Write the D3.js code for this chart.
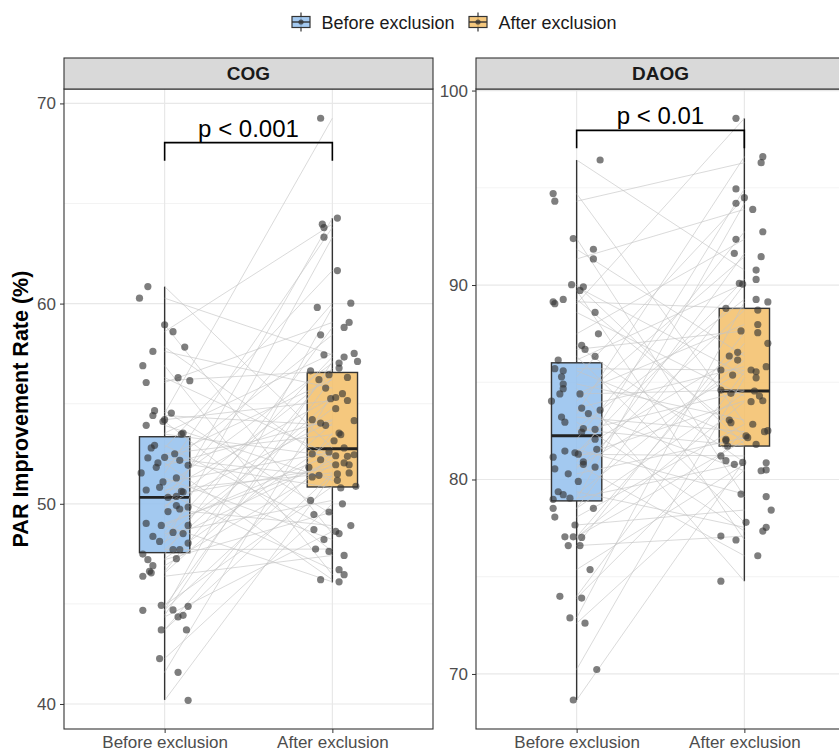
<!DOCTYPE html>
<html>
<head>
<meta charset="utf-8">
<script src="https://cdn.jsdelivr.net/npm/d3@7"></script>
<style>
  body { margin: 0; background: #fff; }
  text { font-family: "Liberation Sans", Arial, sans-serif; }
</style>
</head>
<body>
<svg id="chart" width="839" height="751"></svg>
<script>
var groups = ["Before exclusion", "After exclusion"];
var panels = ["COG", "DAOG"];
var pLabels = ["p < 0.001", "p < 0.01"];

// axis limits and ticks
var cogDomain = [38.75, 70.72];
var daogDomain = [67.17, 100.08];
var cogTicks = [40, 50, 60, 70];
var cogMinor = [45, 55, 65];
var daogTicks = [70, 80, 90, 100];
var daogMinor = [75, 85, 95];

// boxplot stats: [lower whisker, q1, median, q3, upper whisker]
var cogBox = [[40.2, 47.56, 50.32, 53.35, 60.85], [46.07, 50.84, 52.75, 56.56, 64.27]];
var daogBox = [[68.66, 78.9, 82.25, 86.0, 96.43], [74.77, 81.72, 84.55, 88.8, 98.57]];

// significance bracket: [leg end, bar]
var cogBracket = [67.13, 68.04];
var daogBracket = [97.03, 97.95];

// points: [value, jitter in % of category step]
var cogBefore = [[60.85,-10],[60.27,-15],[58.94,0],[58.6,5],[57.83,12],[57.61,-7],[56.9,-13],[56.06,-11],[56.3,8],[56.15,15],
  [54.65,-6],[54.41,-7],[54.53,4],[53.92,-11],[54.2,0],[54.11,-1],[53.53,11],[53.48,10],[52.79,-8],[52.92,-6],
  [52.29,-10],[52.32,0],[52.5,6],[52.04,-4],[51.82,-5],[52.17,9],[51.92,14],[51.54,-14],[51.29,7],[51.09,-1],
  [50.82,-3],[50.69,-11],[50.62,10],[50.59,11],[50.32,2],[50.37,7],[49.91,7],[49.74,9],[49.84,14],[49.61,2],
  [49.02,-11],[48.92,-2],[48.92,14],[48.57,5],[48.51,11],[48.37,-7],[48.12,-3],[48.04,14],[47.71,5],[47.71,9],
  [47.26,7],[47.49,-13],[47.21,-10],[46.91,-7],[46.63,-9],[46.38,-13],[46.55,-8],[44.68,-13],[44.93,-2],[44.7,5],
  [44.88,14],[44.35,8],[44.43,11],[43.7,-2],[43.7,13],[42.27,-3],[41.58,8],[40.18,14]];
var cogAfter = [[69.26,-7],[64.27,3],[63.97,-6],[63.8,-5],[63.32,-5],[61.65,3],[59.81,-9],[60.02,11],[59.06,10],[58.81,7],
  [58.44,-7],[57.44,-5],[57.33,7],[57.51,13],[57.11,15],[57.03,4],[56.78,4],[56.64,-13],[56.45,-2],[56.2,-8],
  [56.31,9],[55.78,-4],[55.25,-1],[55.31,2],[55.5,6],[55.16,9],[54.75,2],[54.2,-12],[54.03,-7],[53.92,-4],
  [54.15,13],[53.53,4],[53.45,5],[53.15,1],[52.79,7],[52.49,-12],[52.59,-2],[52.37,9],[52.45,13],[52.2,-7],
  [52.4,2],[51.82,-14],[51.42,-8],[51.34,-12],[51.95,2],[52.04,7],[51.95,10],[51.49,3],[51.54,10],[51.17,3],
  [50.87,14],[50.79,5],[50.17,-13],[50.0,6],[49.46,-11],[49.59,-2],[48.91,11],[48.71,-11],[48.62,2],[48.51,4],
  [48.21,-5],[47.74,-10],[47.62,-2],[47.42,7],[46.71,4],[46.46,7],[46.21,-7],[46.1,4]];
// which after point (1-based) belongs to each before point
var cogPair = [35,12,60,3,47,22,66,9,41,18,55,30,1,50,26,63,14,38,6,58,44,20,33,67,11,52,28,4,61,37,
  16,49,24,65,8,42,31,57,19,2,46,36,68,13,53,27,40,5,62,23,34,10,56,45,17,64,29,7,51,39,21,59,15,48,32,54,25,43];

var daogBefore = [[96.43,14],[94.7,-14],[94.31,-13],[92.39,-2],[91.84,10],[91.34,10],[90.02,-3],[89.91,4],[89.72,2],[89.14,-14],
  [89.04,-13],[89.26,-8],[88.59,11],[87.49,13],[86.9,3],[86.69,5],[86.33,11],[86.14,-11],[85.7,-13],[85.59,-8],
  [85.28,-9],[84.91,-8],[84.67,-8],[84.4,-10],[84.4,2],[84.03,-15],[83.57,14],[83.67,3],[83.39,7],[83.21,-9],
  [82.95,-7],[82.62,4],[82.44,3],[82.58,11],[82.07,11],[81.55,12],[81.46,-7],[81.37,-1],[81.3,1],[81.15,-14],
  [80.91,4],[80.78,4],[80.64,11],[80.55,-13],[80.29,-5],[79.9,1],[79.37,-11],[79.22,-8],[79.04,-4],[78.98,-14],
  [78.52,-14],[78.07,-13],[78.52,10],[77.66,-1],[77.05,-7],[77.05,-2],[77.02,3],[76.6,-5],[76.6,2],[75.37,8],
  [73.99,-10],[73.9,3],[72.88,-4],[72.61,5],[70.23,12],[68.66,-2]];
var daogAfter = [[98.57,-5],[96.6,11],[96.29,10],[94.94,-5],[94.49,0],[94.2,-5],[93.89,5],[92.74,11],[92.35,-5],[91.63,-6],
  [91.46,10],[90.77,7],[90.29,7],[90.09,-3],[90.05,-1],[89.26,7],[89.13,14],[88.8,-11],[88.71,8],[87.97,8],
  [87.55,8],[87.64,-2],[87.0,14],[86.54,-4],[86.35,-9],[86.14,-4],[85.8,13],[85.63,4],[85.54,7],[85.63,-14],
  [85.37,-7],[85.23,7],[84.6,-14],[84.43,-8],[84.55,6],[84.29,9],[84.0,4],[84.05,11],[83.06,-9],[82.92,-8],
  [82.84,5],[82.46,12],[82.51,14],[82.24,1],[82.15,2],[82.07,-11],[82.0,-11],[81.72,-10],[81.81,7],[81.21,-14],
  [80.97,-11],[80.78,-6],[80.88,-1],[80.86,13],[80.45,10],[80.49,13],[79.25,-2],[79.12,13],[78.43,16],[77.8,1],
  [77.54,13],[77.35,11],[77.09,-14],[76.89,-5],[76.08,8],[74.77,-14]];
var daogPair = [12,40,3,58,25,7,49,31,64,18,1,44,36,9,53,22,60,14,28,46,5,39,66,20,33,11,55,27,2,42,
  62,16,35,48,8,57,24,13,50,38,4,65,30,19,45,10,61,26,54,6,34,41,15,59,23,47,37,63,21,52,29,43,17,56,32,51];

var boxFill = ["#93bfed", "#f3be67"];

var svg = d3.select("#chart");
var panelTop = 89, panelBottom = 729, stripTop = 58;

drawPanel(svg, 64, 433, panels[0], pLabels[0], cogDomain, cogTicks, cogMinor, cogBox, cogBracket, cogBefore, cogAfter, cogPair);
drawPanel(svg, 476, 845, panels[1], pLabels[1], daogDomain, daogTicks, daogMinor, daogBox, daogBracket, daogBefore, daogAfter, daogPair);
drawLegend(svg);

// y axis title
svg.append("text")
  .attr("transform", "translate(28," + (panelTop + panelBottom) / 2 + ") rotate(-90)")
  .attr("text-anchor", "middle")
  .style("font-size", "21.5px")
  .style("font-weight", "bold")
  .text("PAR Improvement Rate (%)");

function drawPanel(svg, x0, x1, name, pLabel, domain, ticks, minor, box, bracket, before, after, pair) {
  var x = d3.scalePoint().domain(groups).range([x0, x1]).padding(0.6);
  var y = d3.scaleLinear().domain(domain).range([panelBottom, panelTop]);
  var step = x.step();
  var bw = step * 0.3;

  var g = svg.append("g");
  g.append("rect")
    .attr("x", x0).attr("y", panelTop)
    .attr("width", x1 - x0).attr("height", panelBottom - panelTop)
    .attr("fill", "white");

  // grid
  g.selectAll(".minor").data(minor).enter().append("line")
    .attr("x1", x0).attr("x2", x1)
    .attr("y1", d => y(d)).attr("y2", d => y(d))
    .attr("stroke", "#eeeeee").attr("stroke-width", 0.7);
  g.selectAll(".major").data(ticks).enter().append("line")
    .attr("x1", x0).attr("x2", x1)
    .attr("y1", d => y(d)).attr("y2", d => y(d))
    .attr("stroke", "#e8e8e8").attr("stroke-width", 1.2);
  g.selectAll(".vgrid").data(groups).enter().append("line")
    .attr("x1", d => x(d)).attr("x2", d => x(d))
    .attr("y1", panelTop).attr("y2", panelBottom)
    .attr("stroke", "#e8e8e8").attr("stroke-width", 1.2);

  // boxes + whiskers
  for (let i = 0; i < groups.length; i++) {
    var cx = x(groups[i]);
    var s = box[i];
    g.append("line")
      .attr("x1", cx).attr("x2", cx)
      .attr("y1", y(s[0])).attr("y2", y(s[1]))
      .attr("stroke", "#333").attr("stroke-width", 1.4);
    g.append("line")
      .attr("x1", cx).attr("x2", cx)
      .attr("y1", y(s[3])).attr("y2", y(s[4]))
      .attr("stroke", "#333").attr("stroke-width", 1.4);
    g.append("rect")
      .attr("x", cx - bw / 2).attr("y", y(s[3]))
      .attr("width", bw).attr("height", y(s[1]) - y(s[3]))
      .attr("fill", boxFill[i]).attr("fill-opacity", 0.85)
      .attr("stroke", "#333").attr("stroke-width", 1.4);
    g.append("line")
      .attr("x1", cx - bw / 2).attr("x2", cx + bw / 2)
      .attr("y1", y(s[2])).attr("y2", y(s[2]))
      .attr("stroke", "#222").attr("stroke-width", 2.8);
  }

  // paired lines
  g.selectAll(".pairline").data(before).enter().append("line")
    .attr("x1", x(groups[0])).attr("x2", x(groups[1]))
    .attr("y1", d => y(d[0]))
    .attr("y2", (d, i) => y(after[pair[i] - 1][0]))
    .attr("stroke", "#c4c4c4").attr("stroke-opacity", 0.7).attr("stroke-width", 0.9);

  // jittered points
  var sets = [before, after];
  for (let i = 0; i < 2; i++) {
    g.selectAll(".pt" + i).data(sets[i]).enter().append("circle")
      .attr("cx", d => x(groups[i]) + d[1] / 100 * step)
      .attr("cy", d => y(d[0]))
      .attr("r", 3.6)
      .attr("fill", "#333").attr("fill-opacity", 0.63);
  }

  // significance bracket
  var bx0 = x(groups[0]), bx1 = x(groups[1]);
  g.append("path")
    .attr("d", "M" + bx0 + "," + y(bracket[0]) + "V" + y(bracket[1]) + "H" + bx1 + "V" + y(bracket[0]))
    .attr("fill", "none").attr("stroke", "black").attr("stroke-width", 1.6);
  g.append("text")
    .attr("x", (bx0 + bx1) / 2).attr("y", y(bracket[1]) - 6)
    .attr("text-anchor", "middle")
    .style("font-size", "24px")
    .text(pLabel);

  // border
  g.append("rect")
    .attr("x", x0).attr("y", panelTop)
    .attr("width", x1 - x0).attr("height", panelBottom - panelTop)
    .attr("fill", "none").attr("stroke", "#333").attr("stroke-width", 1.1);

  // strip
  g.append("rect")
    .attr("x", x0).attr("y", stripTop)
    .attr("width", x1 - x0).attr("height", panelTop - stripTop)
    .attr("fill", "#d9d9d9").attr("stroke", "#333").attr("stroke-width", 1.1);
  g.append("text")
    .attr("x", (x0 + x1) / 2).attr("y", stripTop + 22)
    .attr("text-anchor", "middle")
    .style("font-size", "19px").style("font-weight", "bold")
    .attr("fill", "#1a1a1a")
    .text(name);

  // axes
  var ya = g.append("g").attr("transform", "translate(" + x0 + ",0)")
    .call(d3.axisLeft(y).tickValues(ticks).tickSize(4).tickPadding(4));
  ya.select(".domain").remove();
  ya.selectAll("line").attr("stroke", "#333");
  ya.selectAll("text").attr("fill", "#4d4d4d").style("font-size", "17px");

  var xa = g.append("g").attr("transform", "translate(0," + panelBottom + ")")
    .call(d3.axisBottom(x).tickSize(4).tickPadding(3));
  xa.select(".domain").remove();
  xa.selectAll("line").attr("stroke", "#333");
  xa.selectAll("text").attr("fill", "#4d4d4d").style("font-size", "17px");
}

function drawLegend(svg) {
  var keys = [292, 469];
  var labelsX = [321.5, 498.5];
  for (let i = 0; i < groups.length; i++) {
    var k = svg.append("g");
    var cx = keys[i] + 9;
    k.append("line")
      .attr("x1", cx).attr("x2", cx).attr("y1", 12.5).attr("y2", 31.5)
      .attr("stroke", "#333").attr("stroke-width", 1.2);
    k.append("rect")
      .attr("x", keys[i]).attr("y", 16.5).attr("width", 18).attr("height", 11)
      .attr("fill", boxFill[i]).attr("fill-opacity", 0.85)
      .attr("stroke", "#333").attr("stroke-width", 1.2);
    k.append("line")
      .attr("x1", keys[i]).attr("x2", keys[i] + 18).attr("y1", 22).attr("y2", 22)
      .attr("stroke", "#333").attr("stroke-width", 1.4);
    k.append("circle")
      .attr("cx", cx).attr("cy", 22).attr("r", 2.6)
      .attr("fill", "#333").attr("fill-opacity", 0.75);
    k.append("text")
      .attr("x", labelsX[i]).attr("y", 28.5)
      .style("font-size", "18px")
      .attr("fill", "#1a1a1a")
      .text(groups[i]);
  }
}
</script>
</body>
</html>
